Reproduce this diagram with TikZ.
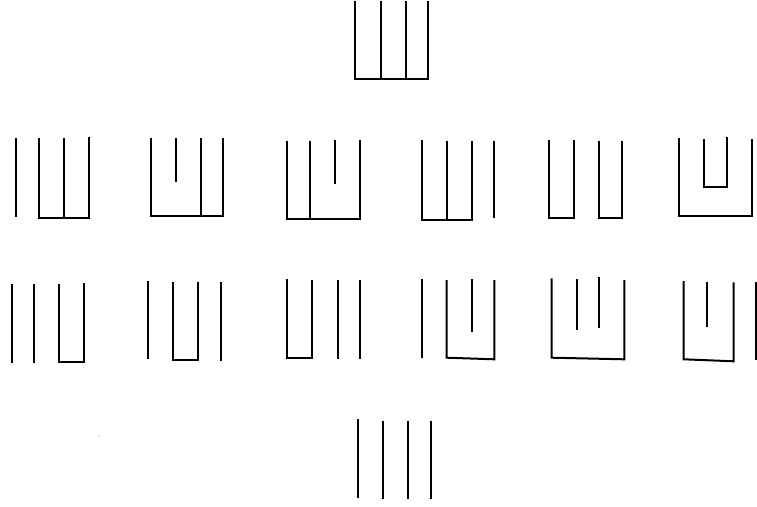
\documentclass[tikz,border=0pt]{standalone}
\begin{document}
\begin{tikzpicture}[x=1pt,y=-1pt,stroke/.style={line width=2pt,black,line cap=butt,line join=miter}]
\useasboundingbox (0,0) rectangle (757,506);
% top figure
\draw[stroke] (355.3,1) -- (355.3,79.3) -- (428.3,79.3) -- (428.3,1);
\draw[stroke] (380.7,1) -- (380.7,79.3);
\draw[stroke] (405.7,1) -- (405.7,79.3);
% row 2
% fig 1
\draw[stroke] (16,138.3) -- (16,216.7);
\draw[stroke] (39.3,138.3) -- (39.3,218) -- (89,218) -- (89,137.3);
\draw[stroke] (64,138.3) -- (64,218);
% fig 2
\draw[stroke] (150.7,137.7) -- (150.7,216.3) -- (223.3,216.3) -- (223.3,138);
\draw[stroke] (175.7,138) -- (175.7,181.7);
\draw[stroke] (200.7,138) -- (200.7,216.3);
% fig 3
\draw[stroke] (287.3,140.7) -- (287.3,218.6) -- (360,218.6) -- (360,140);
\draw[stroke] (310,140.7) -- (310,218.6);
\draw[stroke] (335,140.3) -- (335,184.3);
% fig 4
\draw[stroke] (421.7,140) -- (421.7,219.8) -- (471.7,219.8) -- (471.7,141);
\draw[stroke] (446.7,140.7) -- (446.7,219.8);
\draw[stroke] (494.3,140.7) -- (494.3,218.3);
% fig 5
\draw[stroke] (549,139.7) -- (549,218.3) -- (574,218.3) -- (574,140.3);
\draw[stroke] (599,140.7) -- (599,218.3) -- (622.3,218.3) -- (622.3,140.7);
% fig 6
\draw[stroke] (679,138.3) -- (679,215.8) -- (751.7,215.8) -- (751.7,139);
\draw[stroke] (704,138.7) -- (704,186.7) -- (727.3,186.7) -- (727.3,137.3);
% row 3
% fig 7
\draw[stroke] (11.7,284.3) -- (11.7,363.3);
\draw[stroke] (34.3,284.3) -- (34.3,363.3);
\draw[stroke] (59.3,284.3) -- (59.3,363.3);
\draw[stroke] (60.3,361.5) -- (84.3,361.5) -- (84.3,283.3);
% fig 8
\draw[stroke] (148.3,281) -- (148.3,359.3);
\draw[stroke] (173,282.3) -- (173,360) -- (198.3,360) -- (198.3,282.3);
\draw[stroke] (221,282.3) -- (221,360.7);
% fig 9
\draw[stroke] (287.3,278.7) -- (287.3,357.5) -- (312.3,357.5);
\draw[stroke] (312.3,280) -- (312.3,358.7);
\draw[stroke] (337.7,280) -- (337.7,359);
\draw[stroke] (360,280) -- (360,359);
% fig 10
\draw[stroke] (421.7,278.7) -- (421.7,357.7);
\draw[stroke] (446.7,280) -- (446.7,357.7) -- (494.3,359.3) -- (494.3,280);
\draw[stroke] (471.7,279.3) -- (471.7,332);
% fig 11
\draw[stroke] (551.7,278.3) -- (551.7,357.7) -- (624.3,359.3) -- (624.3,280);
\draw[stroke] (576.7,279.3) -- (576.7,330);
\draw[stroke] (599.3,277.3) -- (599.3,328.3);
% fig 12
\draw[stroke] (683.7,281) -- (683.7,359.3) -- (733.7,361.3) -- (733.7,282.3);
\draw[stroke] (706.7,281.7) -- (706.7,327.3);
\draw[stroke] (756,282.3) -- (756,360);
% bottom figure
\draw[stroke] (357.7,419.3) -- (357.7,498.3);
\draw[stroke] (382.7,420.7) -- (382.7,499.3);
\draw[stroke] (407.7,420.7) -- (407.7,499.3);
\draw[stroke] (430.7,420.7) -- (430.7,499.3);
% stray dot
\fill[black!45] (99.3,436) circle (0.7);
\end{tikzpicture}
\end{document}
